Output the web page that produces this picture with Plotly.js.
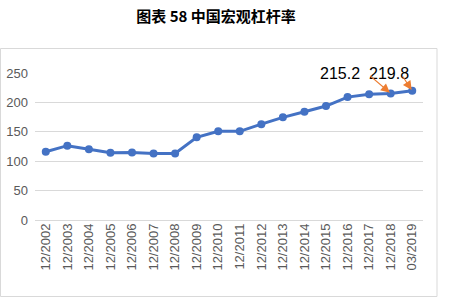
<!DOCTYPE html>
<html>
<head>
<meta charset="utf-8">
<script src="https://cdn.plot.ly/plotly-3.0.1.min.js"></script>
<style>html,body{margin:0;padding:0;background:#fff;}#chart{width:461px;height:307px;}</style>
</head>
<body>
<div id="chart"></div>
<script>
const categories = ["12/2002","12/2003","12/2004","12/2005","12/2006","12/2007","12/2008","12/2009","12/2010","12/2011","12/2012","12/2013","12/2014","12/2015","12/2016","12/2017","12/2018","03/2019"];
const leverage = [116, 126.4, 120.2, 114.5, 115, 113, 113, 140.6, 150.8, 150.8, 163, 174.6, 184, 193.8, 209, 213.7, 215.2, 219.8];
const yTicks = [0, 50, 100, 150, 200, 250];
const labelText = ["215.2", "219.8"];
const labelIdx = [16, 17];

const trace = {
  x: categories.map((c, i) => i),
  y: leverage,
  type: 'scatter',
  mode: 'lines+markers',
  line: {color: '#4472C4', width: 3},
  marker: {color: '#4472C4', size: 8},
  hoverinfo: 'skip'
};

const annotations = [];
annotations.push({x: 13.65, y: 250, xref: 'x', yref: 'y', text: labelText[0], showarrow: false,
  font: {family: 'Liberation Sans, Arial, sans-serif', size: 16, color: '#000'}, yanchor: 'middle'});
annotations.push({x: 15.9, y: 250, xref: 'x', yref: 'y', text: labelText[1], showarrow: false,
  font: {family: 'Liberation Sans, Arial, sans-serif', size: 16, color: '#000'}, yanchor: 'middle'});
annotations.push({x: labelIdx[0], y: leverage[labelIdx[0]], xref: 'x', yref: 'y', text: ' ', showarrow: true,
  font: {size: 1}, borderpad: 0,
  ax: -21, ay: -18, arrowcolor: '#ED7D31', arrowhead: 2, arrowsize: 1.5, arrowwidth: 1.2, standoff: 1});
annotations.push({x: labelIdx[1], y: leverage[labelIdx[1]], xref: 'x', yref: 'y', text: ' ', showarrow: true,
  font: {size: 1}, borderpad: 0,
  ax: -10, ay: -15, arrowcolor: '#ED7D31', arrowhead: 2, arrowsize: 1.5, arrowwidth: 1.2, standoff: 1});

const layout = {
  width: 461, height: 307,
  margin: {l: 35, r: 38, t: 73, b: 87},
  paper_bgcolor: '#fff', plot_bgcolor: '#fff',
  showlegend: false,
  title: {text: '图表 58 中国宏观杠杆率', x: 216/461, xref: 'container', xanchor: 'center',
    y: 1 - 17/307, yref: 'container', yanchor: 'middle',
    font: {family: 'Noto Sans CJK SC, sans-serif', size: 15, color: '#000', weight: 'bold'}},
  xaxis: {
    type: 'linear', range: [-0.5, categories.length - 0.5],
    tickmode: 'array', tickvals: categories.map((c, i) => i), ticktext: categories,
    tickangle: -90, showgrid: false, zeroline: false, showline: false, ticks: '',
    tickfont: {family: 'Liberation Sans, Arial, sans-serif', size: 13, color: '#595959'},
    fixedrange: true
  },
  yaxis: {
    range: [0, 250], tickmode: 'array', tickvals: yTicks,
    showgrid: true, gridcolor: '#d9d9d9', gridwidth: 1, zeroline: true, zerolinecolor: '#d9d9d9',
    showline: false, ticks: '', ticklabelstandoff: 6,
    tickfont: {family: 'Liberation Sans, Arial, sans-serif', size: 13, color: '#595959'},
    fixedrange: true
  },
  shapes: [{type: 'rect', xref: 'paper', yref: 'paper',
    x0: (0.5 - 35)/388, x1: (437 - 35)/388, y0: (220 - 296.5)/147, y1: (220 - 48.5)/147,
    line: {color: '#d9d9d9', width: 1}, fillcolor: 'rgba(0,0,0,0)', layer: 'below'}],
  annotations: annotations
};

Plotly.newPlot('chart', [trace], layout, {displayModeBar: false, staticPlot: true});
</script>
</body>
</html>
